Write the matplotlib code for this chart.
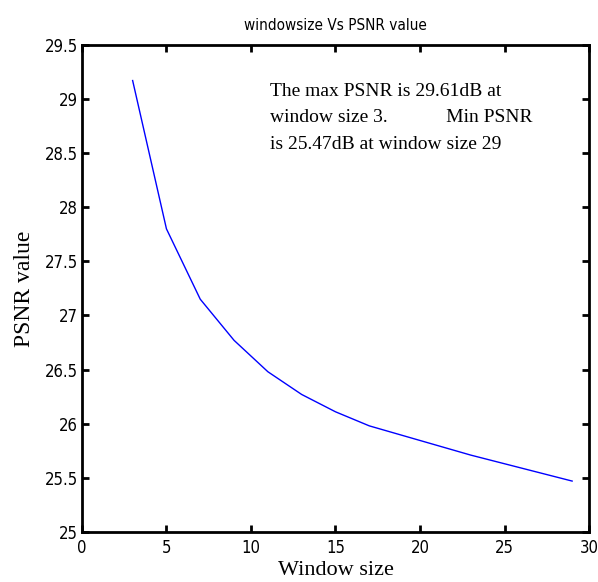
import matplotlib.pyplot as plt
from matplotlib import font_manager

# PSNR for each (odd) window size
window_size = [3, 5, 7, 9, 11, 13, 15, 17, 19, 21, 23, 25, 27, 29]
psnr = [29.17, 27.80, 27.15, 26.77, 26.48, 26.27, 26.11, 25.98,
        25.89, 25.80, 25.71, 25.63, 25.55, 25.47]

yticks = [25, 25.5, 26, 26.5, 27, 27.5, 28, 28.5, 29, 29.5]
ytick_labels = ['25', '25.5', '26', '26.5', '27', '27.5', '28', '28.5', '29', '29.5']

note = ("The max PSNR is 29.61dB at\n"
        "window size 3.            Min PSNR\n"
        "is 25.47dB at window size 29")

# narrow sans for the MATLAB-like tick labels, if available
names = {f.name for f in font_manager.fontManager.ttflist}
narrow = 'Liberation Sans Narrow' if 'Liberation Sans Narrow' in names else 'DejaVu Sans'
stretch = 'normal' if narrow == 'Liberation Sans Narrow' else 'condensed'

fig = plt.figure(figsize=(5.98, 5.82), dpi=100)
ax = fig.add_axes([0.137, 0.086, 0.848, 0.837])

ax.plot(window_size, psnr, color='blue', linewidth=1)

ax.set_xlim(0, 30)
ax.set_ylim(25, 29.5)
ax.set_xticks(range(0, 31, 5))
ax.set_yticks(yticks)
ax.set_yticklabels(ytick_labels)

ax.tick_params(direction='in', top=True, right=True, length=5, width=2,
               labelsize=12)
ax.tick_params(axis='x', pad=5)
ax.tick_params(axis='y', pad=3)
for lbl in ax.get_xticklabels() + ax.get_yticklabels():
    lbl.set_fontfamily(narrow)
    lbl.set_fontstretch(stretch)
for s in ax.spines.values():
    s.set_linewidth(2)

ax.set_xlabel('Window size', family='Liberation Serif', fontsize=16, labelpad=3)
ax.set_ylabel('PSNR value', family='Liberation Serif', fontsize=17, labelpad=7)
ax.set_title('windowsize Vs PSNR value', family=narrow, stretch=stretch,
             fontsize=11, pad=11)

ax.text(0.37, 0.922, note, transform=ax.transAxes, family='Liberation Serif',
        fontsize=14, va='top', ha='left', linespacing=1.73)

fig.savefig('out.png', dpi=100)
